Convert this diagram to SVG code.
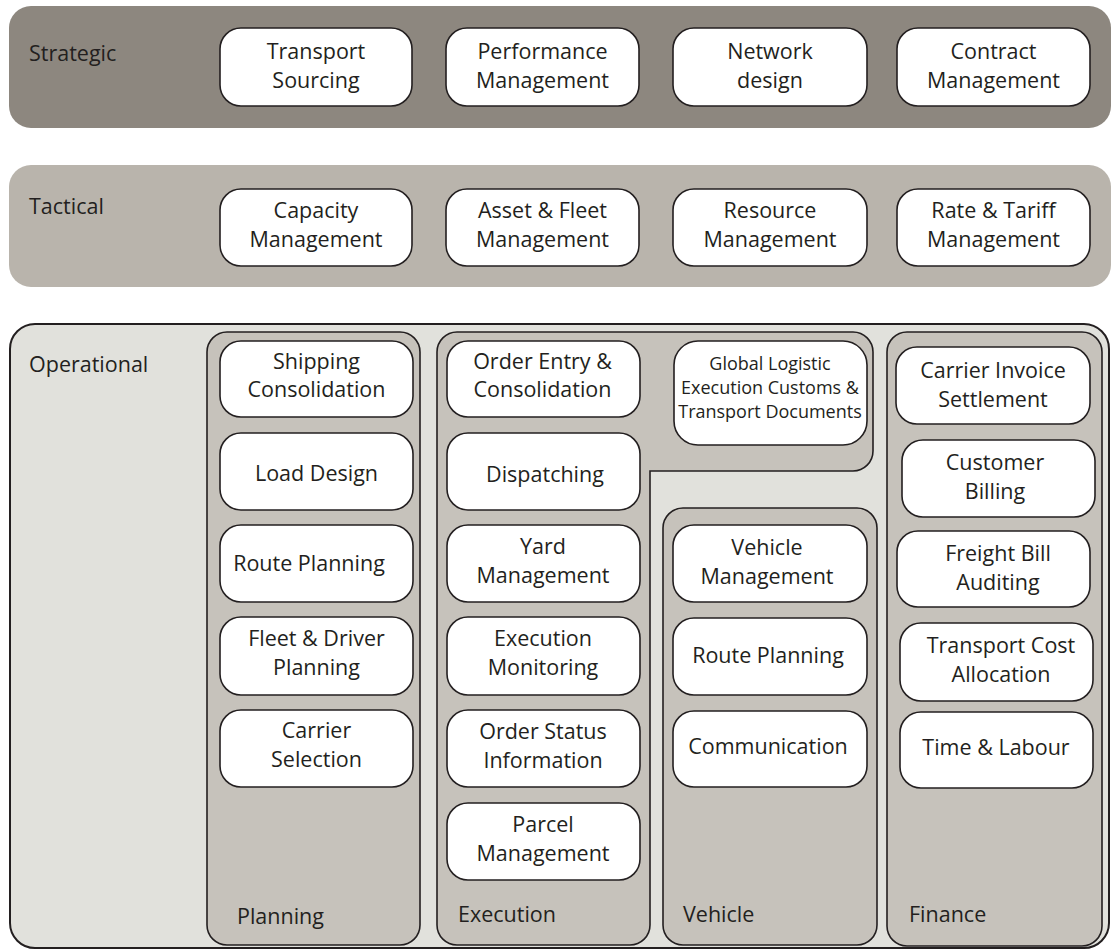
<svg xmlns="http://www.w3.org/2000/svg" width="1112" height="952" viewBox="0 0 1112 952">
  <style>
    text { font-family: "Open Sans", "Noto Sans", "DejaVu Sans", sans-serif; fill: #231f20; }
    .lbl { font-size: 21.5px; }
    .nt { font-size: 21.5px; text-anchor: middle; }
    .nt-s { font-size: 18px; text-anchor: middle; }
    .node { fill: #ffffff; stroke: #231f20; stroke-width: 1.6; }
    .col { fill: #c6c2bb; stroke: #231f20; stroke-width: 1.6; }
  </style>
  <rect width="1112" height="952" fill="#ffffff"/>

  <!-- Layer bands -->
  <g id="layer-strategic">
    <rect x="9" y="6" width="1102" height="122" rx="22" fill="#8d877f"/>
    <text class="lbl" x="29" y="61">Strategic</text>
  </g>
  <g id="layer-tactical">
    <rect x="9" y="165" width="1102" height="122" rx="22" fill="#b9b4ac"/>
    <text class="lbl" x="29" y="214">Tactical</text>
  </g>
  <g id="layer-operational">
    <rect x="10" y="324" width="1099" height="624" rx="25" fill="#e1e1dc" stroke="#231f20" stroke-width="2"/>
    <text class="lbl" x="29" y="372">Operational</text>
  </g>

  <!-- Operational columns -->
  <g id="col-planning">
    <rect class="col" x="207" y="332" width="213" height="613" rx="20"/>
    <text class="lbl" x="237" y="924">Planning</text>
  </g>
  <g id="col-execution">
    <path class="col" d="M457,332 H853 A20,20 0 0 1 873,352 V451 A20,20 0 0 1 853,471 H650 V925 A20,20 0 0 1 630,945 H457 A20,20 0 0 1 437,925 V352 A20,20 0 0 1 457,332 Z"/>
    <text class="lbl" x="458" y="922">Execution</text>
  </g>
  <g id="col-vehicle">
    <rect class="col" x="663" y="508" width="214" height="437" rx="20"/>
    <text class="lbl" x="683" y="922">Vehicle</text>
  </g>
  <g id="col-finance">
    <rect class="col" x="887" y="332" width="215" height="614" rx="20"/>
    <text class="lbl" x="909" y="922">Finance</text>
  </g>

  <!-- Strategic nodes -->
  <g id="n-transport-sourcing">
    <rect class="node" x="220" y="28" width="192" height="78" rx="21"/>
    <text class="nt" x="316" y="59">Transport</text>
    <text class="nt" x="316" y="88">Sourcing</text>
  </g>
  <g id="n-performance-management">
    <rect class="node" x="446" y="28" width="193" height="78" rx="21"/>
    <text class="nt" x="542.5" y="59">Performance</text>
    <text class="nt" x="542.5" y="88">Management</text>
  </g>
  <g id="n-network-design">
    <rect class="node" x="673" y="28" width="194" height="78" rx="21"/>
    <text class="nt" x="770" y="59">Network</text>
    <text class="nt" x="770" y="88">design</text>
  </g>
  <g id="n-contract-management">
    <rect class="node" x="897" y="28" width="193" height="78" rx="21"/>
    <text class="nt" x="993.5" y="59">Contract</text>
    <text class="nt" x="993.5" y="88">Management</text>
  </g>

  <!-- Tactical nodes -->
  <g id="n-capacity-management">
    <rect class="node" x="220" y="189" width="192" height="77" rx="21"/>
    <text class="nt" x="316" y="218">Capacity</text>
    <text class="nt" x="316" y="247">Management</text>
  </g>
  <g id="n-asset-fleet-management">
    <rect class="node" x="446" y="189" width="193" height="77" rx="21"/>
    <text class="nt" x="542.5" y="218">Asset &amp; Fleet</text>
    <text class="nt" x="542.5" y="247">Management</text>
  </g>
  <g id="n-resource-management">
    <rect class="node" x="673" y="189" width="194" height="77" rx="21"/>
    <text class="nt" x="770" y="218">Resource</text>
    <text class="nt" x="770" y="247">Management</text>
  </g>
  <g id="n-rate-tariff-management">
    <rect class="node" x="897" y="189" width="193" height="77" rx="21"/>
    <text class="nt" x="993.5" y="218">Rate &amp; Tariff</text>
    <text class="nt" x="993.5" y="247">Management</text>
  </g>

  <!-- Planning nodes -->
  <g id="n-shipping-consolidation">
    <rect class="node" x="220" y="341" width="193" height="76" rx="21"/>
    <text class="nt" x="316.5" y="369">Shipping</text>
    <text class="nt" x="316.5" y="397">Consolidation</text>
  </g>
  <g id="n-load-design">
    <rect class="node" x="220" y="433" width="193" height="77" rx="21"/>
    <text class="nt" x="316.5" y="481">Load Design</text>
  </g>
  <g id="n-route-planning-1">
    <rect class="node" x="220" y="525" width="193" height="77" rx="21"/>
    <text class="nt" x="309" y="571">Route Planning</text>
  </g>
  <g id="n-fleet-driver-planning">
    <rect class="node" x="220" y="617" width="193" height="78" rx="21"/>
    <text class="nt" x="316.5" y="646">Fleet &amp; Driver</text>
    <text class="nt" x="316.5" y="675">Planning</text>
  </g>
  <g id="n-carrier-selection">
    <rect class="node" x="220" y="710" width="193" height="77" rx="21"/>
    <text class="nt" x="316.5" y="738">Carrier</text>
    <text class="nt" x="316.5" y="767">Selection</text>
  </g>

  <!-- Execution nodes -->
  <g id="n-order-entry-consolidation">
    <rect class="node" x="447" y="341" width="193" height="76" rx="21"/>
    <text class="nt" x="542.5" y="369">Order Entry &amp;</text>
    <text class="nt" x="542.5" y="397">Consolidation</text>
  </g>
  <g id="n-dispatching">
    <rect class="node" x="447" y="433" width="193" height="77" rx="21"/>
    <text class="nt" x="545" y="482">Dispatching</text>
  </g>
  <g id="n-yard-management">
    <rect class="node" x="447" y="525" width="193" height="77" rx="21"/>
    <text class="nt" x="543" y="554">Yard</text>
    <text class="nt" x="543" y="583">Management</text>
  </g>
  <g id="n-execution-monitoring">
    <rect class="node" x="447" y="617" width="193" height="78" rx="21"/>
    <text class="nt" x="543" y="646">Execution</text>
    <text class="nt" x="543" y="675">Monitoring</text>
  </g>
  <g id="n-order-status-information">
    <rect class="node" x="447" y="710" width="193" height="77" rx="21"/>
    <text class="nt" x="543" y="739">Order Status</text>
    <text class="nt" x="543" y="768">Information</text>
  </g>
  <g id="n-parcel-management">
    <rect class="node" x="447" y="803" width="193" height="77" rx="21"/>
    <text class="nt" x="543" y="832">Parcel</text>
    <text class="nt" x="543" y="861">Management</text>
  </g>
  <g id="n-global-logistic">
    <rect class="node" x="674" y="341" width="193" height="104" rx="24"/>
    <text class="nt-s" x="770" y="370">Global Logistic</text>
    <text class="nt-s" x="770" y="394">Execution Customs &amp;</text>
    <text class="nt-s" x="770" y="418">Transport Documents</text>
  </g>

  <!-- Vehicle nodes -->
  <g id="n-vehicle-management">
    <rect class="node" x="673" y="525" width="194" height="77" rx="21"/>
    <text class="nt" x="767" y="555">Vehicle</text>
    <text class="nt" x="767" y="584">Management</text>
  </g>
  <g id="n-route-planning-2">
    <rect class="node" x="673" y="618" width="194" height="77" rx="21"/>
    <text class="nt" x="768" y="663">Route Planning</text>
  </g>
  <g id="n-communication">
    <rect class="node" x="673" y="711" width="194" height="76" rx="21"/>
    <text class="nt" x="768" y="754">Communication</text>
  </g>

  <!-- Finance nodes -->
  <g id="n-carrier-invoice-settlement">
    <rect class="node" x="896" y="347" width="194" height="77" rx="21"/>
    <text class="nt" x="993" y="378">Carrier Invoice</text>
    <text class="nt" x="993" y="407">Settlement</text>
  </g>
  <g id="n-customer-billing">
    <rect class="node" x="902" y="440" width="193" height="77" rx="21"/>
    <text class="nt" x="995" y="470">Customer</text>
    <text class="nt" x="995" y="499">Billing</text>
  </g>
  <g id="n-freight-bill-auditing">
    <rect class="node" x="897" y="531" width="193" height="76" rx="21"/>
    <text class="nt" x="998" y="561">Freight Bill</text>
    <text class="nt" x="998" y="590">Auditing</text>
  </g>
  <g id="n-transport-cost-allocation">
    <rect class="node" x="900" y="623" width="193" height="78" rx="21"/>
    <text class="nt" x="1001" y="653">Transport Cost</text>
    <text class="nt" x="1001" y="682">Allocation</text>
  </g>
  <g id="n-time-labour">
    <rect class="node" x="900" y="712" width="193" height="76" rx="21"/>
    <text class="nt" x="996" y="755">Time &amp; Labour</text>
  </g>

  <g id="connectors"/>
</svg>
